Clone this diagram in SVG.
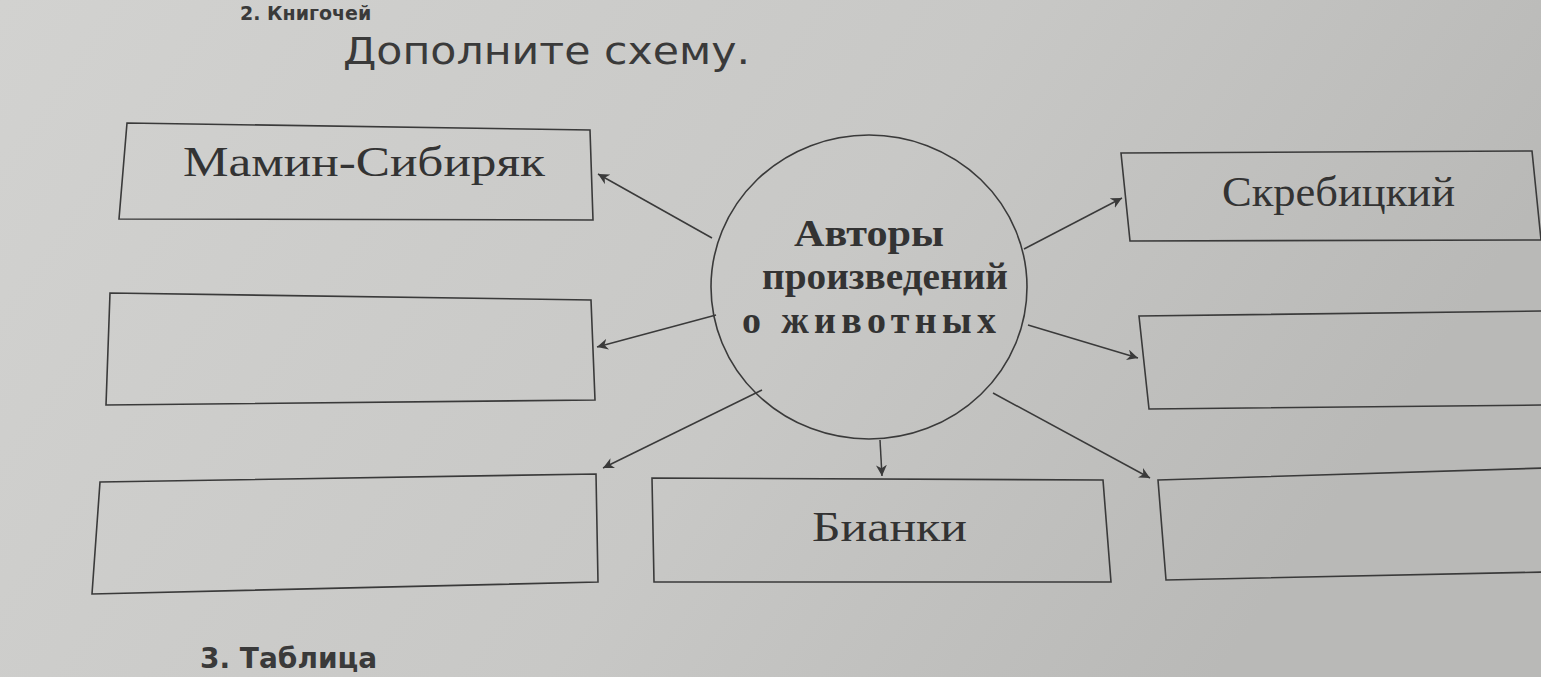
<svg xmlns="http://www.w3.org/2000/svg" width="1541" height="677" viewBox="0 0 1541 677">
<defs>
<linearGradient id="bg" x1="0" y1="0" x2="1" y2="0.3">
<stop offset="0" stop-color="#d2d2d0"/><stop offset="0.6" stop-color="#c8c8c6"/><stop offset="1" stop-color="#b9b9b7"/>
</linearGradient>
<marker id="ah" viewBox="0 0 10 10" refX="10" refY="5" markerWidth="11" markerHeight="11" markerUnits="userSpaceOnUse" orient="auto">
<path d="M0,0 L10,5 L0,10 L3,5 z" fill="#3a3a3a"/>
</marker>
<style>
.box{fill:none;stroke:#3a3a3a;stroke-width:1.6}
.ln{stroke:#3a3a3a;stroke-width:1.5;marker-end:url(#ah)}
.t{font-family:"Liberation Serif",serif;font-size:42px;fill:#333}
.tb{font-family:"Liberation Serif",serif;font-size:38px;font-weight:bold;fill:#333;text-anchor:middle}
.h{font-family:"DejaVu Sans",sans-serif;font-size:38px;fill:#3a3a3a}
</style>
</defs>
<rect width="1541" height="677" fill="url(#bg)"/>
<text class="h" x="240" y="20" style="font-size:19px;font-weight:bold">2. Книгочей</text>
<text class="h" x="343" y="64" textLength="407" lengthAdjust="spacingAndGlyphs">Дополните  схему.</text>
<text class="h" x="200" y="668" style="font-size:28px;font-weight:bold">3.  Таблица</text>
<g id="connectors">
<line class="ln" x1="712" y1="238" x2="598" y2="174"/>
<line class="ln" x1="716" y1="315" x2="597" y2="347"/>
<line class="ln" x1="762" y1="390" x2="603" y2="468"/>
<line class="ln" x1="880" y1="440" x2="882" y2="476"/>
<line class="ln" x1="993" y1="393" x2="1150" y2="478"/>
<line class="ln" x1="1028" y1="325" x2="1138" y2="358"/>
<line class="ln" x1="1024" y1="249" x2="1122" y2="198"/>
</g>
<g id="center"><ellipse cx="869" cy="287" rx="158" ry="152" class="box"/>
<text class="tb" x="869" y="246" textLength="150" lengthAdjust="spacingAndGlyphs">Авторы</text>
<text class="tb" x="885" y="289" textLength="246" lengthAdjust="spacingAndGlyphs">произведений</text>
<text class="tb" x="869" y="333" textLength="254" lengthAdjust="spacing">о  животных</text></g>
<g id="n1"><polygon class="box" points="127,123 590,130 593,220 119,219"/><text class="t" x="183" y="176" textLength="362" lengthAdjust="spacingAndGlyphs">Мамин-Сибиряк</text></g>
<g id="n2"><polygon class="box" points="110,293 591,300 595,400 106,405"/></g>
<g id="n3"><polygon class="box" points="100,482 596,474 598,582 92,594"/></g>
<g id="n4"><polygon class="box" points="652,478 1103,480 1111,582 654,582"/><text class="t" x="812" y="541" textLength="155" lengthAdjust="spacingAndGlyphs">Бианки</text></g>
<g id="n5"><polygon class="box" points="1121,153 1532,151 1541,240 1130,241"/><text class="t" x="1222" y="206" textLength="233" lengthAdjust="spacingAndGlyphs">Скребицкий</text></g>
<g id="n6"><polygon class="box" points="1139,316 1545,311 1545,405 1149,409"/></g>
<g id="n7"><polygon class="box" points="1158,480 1545,468 1545,572 1166,580"/></g>
</svg>
